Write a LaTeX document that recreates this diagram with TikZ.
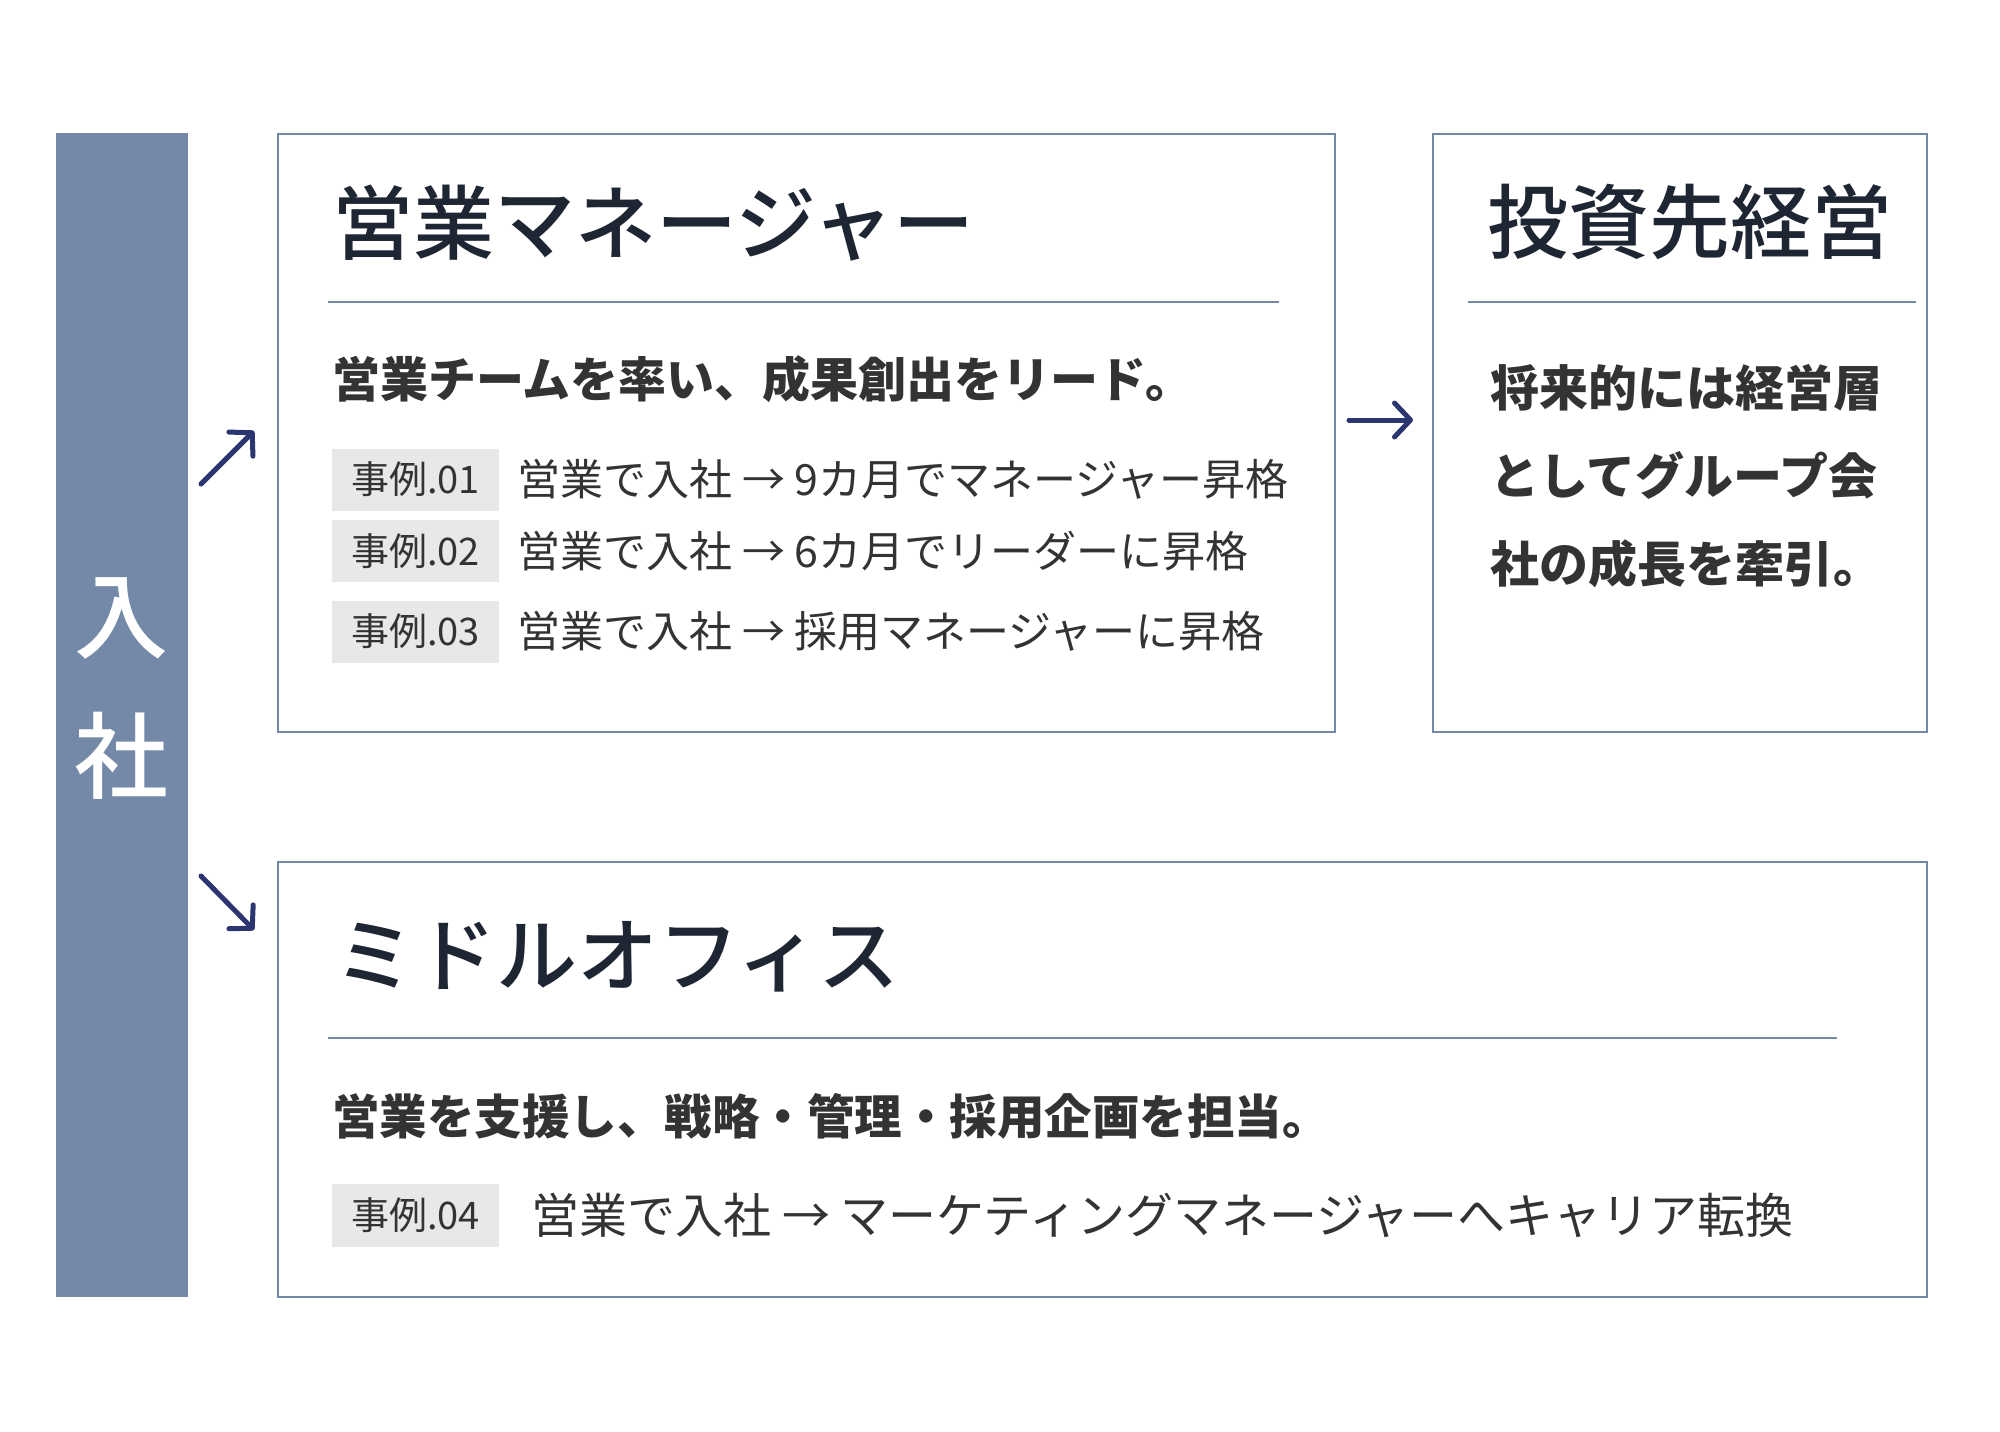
\documentclass[tikz,border=0pt]{standalone}
\usepackage{fontspec}
\setmainfont{Noto Sans CJK JP}
\newfontfamily\headfont{Noto Sans CJK JP Medium}
\usepackage{xcolor}
\usetikzlibrary{arrows.meta,positioning}

\definecolor{slate}{HTML}{7489A8}
\definecolor{navy}{HTML}{2B3570}
\definecolor{ink}{HTML}{1F2633}
\definecolor{bodytext}{HTML}{333333}
\definecolor{tagfill}{HTML}{E8E8E8}

\begin{document}
\begin{tikzpicture}[
    x=1pt, y=-1pt,
    bar/.style={rectangle, fill=slate, inner sep=0pt, anchor=north west},
    card/.style={rectangle, draw=slate, line width=2pt, inner sep=0pt, anchor=north west},
    heading/.style={anchor=west, inner sep=0pt, text=ink, font=\headfont\fontsize{81}{90}\selectfont},
    lead/.style={anchor=west, inner sep=0pt, text=bodytext, align=left, font=\bfseries\fontsize{49}{88}\selectfont},
    tag/.style={rectangle, fill=tagfill, minimum width=167pt, minimum height=62pt, inner sep=0pt, text=bodytext, font=\fontsize{38}{40}\selectfont},
    case/.style={anchor=west, inner sep=0pt, text=bodytext, font=\fontsize{43}{45}\selectfont},
    rule/.style={draw=slate, line width=2pt},
    flow/.style={draw=navy, line width=5pt, line cap=round, -{Straight Barb[length=16pt, width=34pt, round]}}
]
\useasboundingbox (0,0) rectangle (2000,1432);

% Entry bar
\node[bar, minimum width=131.5pt, minimum height=1163.5pt] (entry) at (56,133) {};
\node[text=white, align=center, inner sep=0pt, font=\headfont\fontsize{94}{140}\selectfont] (entrytext) at (121.75,689) {入\\社};

% Cards
\node[card, minimum width=1057pt, minimum height=598pt] (sales) at (277,133) {};
\node[card, minimum width=494pt, minimum height=598pt] (invest) at (1432,133) {};
\node[card, minimum width=1649pt, minimum height=435pt] (middle) at (277,861) {};

% Sales manager
\node[heading] (salestitle) at (332,223) {営業マネージャー};
\draw[rule] (328,302) -- (1279,302);
\node[lead, font=\bfseries\fontsize{48}{60}\selectfont] (saleslead) at (332,379) {営業チームを率い、成果創出をリード。};

\node[tag] (case1) at (415.5,479.5) {事例.01};
\node[case, right=18pt of case1] (case1text) {営業で入社 → 9カ月でマネージャー昇格};
\node[tag] (case2) at (415.5,551) {事例.02};
\node[case, right=18pt of case2] (case2text) {営業で入社 → 6カ月でリーダーに昇格};
\node[tag] (case3) at (415.5,631.5) {事例.03};
\node[case, right=18pt of case3] (case3text) {営業で入社 → 採用マネージャーに昇格};

% Investee management
\node[heading] (investtitle) at (1487,222) {投資先経営};
\draw[rule] (1468,302) -- (1916,302);
\node[lead] (investlead) at (1490,476) {将来的には経営層\\としてグループ会\\社の成長を牽引。};

% Middle office
\node[heading] (middletitle) at (334,957) {ミドルオフィス};
\draw[rule] (328,1038) -- (1837,1038);
\node[lead, font=\bfseries\fontsize{47.5}{60}\selectfont] (middlelead) at (332,1116) {営業を支援し、戦略・管理・採用企画を担当。};

\node[tag, minimum height=63pt] (case4) at (415.5,1215.5) {事例.04};
\node[case, right=32pt of case4, font=\fontsize{48}{50}\selectfont] (case4text) {営業で入社 → マーケティングマネージャーへキャリア転換};

% Arrows
\coordinate (upfrom) at (201,484);
\coordinate (upto) at (254,431);
\coordinate (downfrom) at (201,876);
\coordinate (downto) at (254,930);
\coordinate (nextfrom) at (1349,420);
\coordinate (nextto) at (1413,420);
\draw[flow] (upfrom) -- (upto);
\draw[flow] (downfrom) -- (downto);
\draw[flow] (nextfrom) -- (nextto);

\end{tikzpicture}
\end{document}
